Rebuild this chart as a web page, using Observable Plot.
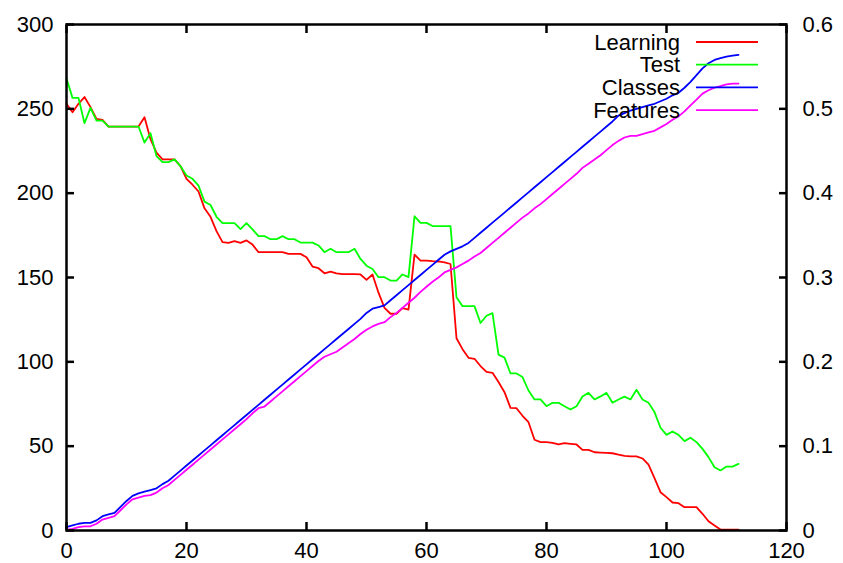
<!DOCTYPE html>
<html>
<head>
<meta charset="utf-8">
<script src="https://cdn.jsdelivr.net/npm/d3@7"></script>
<script src="https://cdn.jsdelivr.net/npm/@observablehq/plot@0.6"></script>
<style>
  html, body { margin: 0; padding: 0; background: #fff; }
  svg { display: block; }
</style>
</head>
<body>
<div id="chart"></div>
<script>
// ---- data ----
const seriesNames = ["Learning", "Test", "Classes", "Features"];
const seriesColors = ["#ff0000", "#00ff00", "#0000ff", "#ff00ff"];

const learning = [253,248,253,257,251,244,243.5,239.5,239.5,239.5,
  239.5,239.5,239.5,245,232,224,220,220,220,216,
  208.5,205,201,191,186,177.5,171,170.5,171.5,170.5,
  172,169.5,165,165,165,165,165,164,164,164,
  162,156.5,155.5,152.5,153.5,152.5,152,152,152,151.8,
  148.6,151.8,141,132,128.5,128.5,131.8,131,163.6,160,
  160,159.7,159.5,159,158,114,107.5,102.4,101.8,97.5,
  94,93.5,88,82,72.7,72.5,68,64.2,53.8,52.4,
  52.4,52,51,51.8,51.4,51,47.8,47.8,46.4,46.2,
  46,45.8,45,44.3,44,43.9,42.7,39,31,22.7,
  19.8,16.6,16.2,13.8,13.8,13.8,9.9,5.5,3,0.6,
  0.5,0.5,0.5];

const test = [268,256.5,256.5,241.5,250.6,243,243,239.5,239.5,239.5,
  239.5,239.5,239.5,230,235.5,222,218.4,218.4,220,216,
  210.5,208.5,204.5,195,193,186,182.2,182.2,182.2,178.7,
  182.3,178.5,174.5,174.5,172.7,172.7,174.5,172.7,172.7,170.7,
  170.7,170.7,169,165,167,165,165,165,167,161,
  157,155,150.2,150.2,148.2,148.2,151.8,150.2,186.3,182.4,
  182.4,180.5,180.5,180.5,180.5,138.3,133,133,133,123,
  127.3,128.9,104.3,102.5,93.1,93.1,91,83,77.7,77.7,
  73.7,75.7,75.7,73.7,71.7,73.7,79.4,81.6,77.7,79.5,
  81.6,75.7,77.7,79.4,77.7,83.4,77.7,75.7,70.2,60.9,
  56.7,58.7,56.7,53,55,52.4,48.4,43.5,37.5,35.6,
  37.9,37.9,39.5];

// right-axis series
const classes = [0.004,0.006,0.008,0.009,0.009,0.012,0.017,0.019,0.021,0.028,
  0.035,0.041,0.044,0.046,0.048,0.050,0.055,0.059,0.065,0.071,
  0.077,0.083,0.089,0.095,0.101,0.107,0.113,0.119,0.125,0.131,
  0.137,0.143,0.149,0.155,0.161,0.167,0.173,0.179,0.185,0.191,
  0.197,0.203,0.209,0.215,0.221,0.227,0.233,0.239,0.245,0.251,
  0.258,0.263,0.265,0.267,0.273,0.279,0.285,0.291,0.297,0.303,
  0.309,0.315,0.321,0.327,0.331,0.334,0.337,0.341,0.347,0.353,
  0.359,0.365,0.371,0.377,0.383,0.389,0.395,0.401,0.407,0.413,
  0.419,0.425,0.431,0.437,0.443,0.449,0.455,0.461,0.467,0.473,
  0.479,0.485,0.492,0.495,0.498,0.500,0.502,0.504,0.506,0.509,
  0.512,0.516,0.519,0.525,0.532,0.540,0.548,0.554,0.558,0.560,
  0.562,0.563,0.564];

const features = [0.001,0.002,0.004,0.005,0.005,0.008,0.013,0.015,0.017,0.024,
  0.031,0.037,0.039,0.041,0.042,0.045,0.050,0.054,0.060,0.066,
  0.072,0.078,0.084,0.090,0.096,0.102,0.108,0.114,0.120,0.126,
  0.132,0.139,0.145,0.147,0.153,0.159,0.165,0.171,0.177,0.183,
  0.189,0.195,0.201,0.206,0.209,0.212,0.217,0.222,0.227,0.233,
  0.238,0.242,0.245,0.247,0.253,0.258,0.264,0.270,0.276,0.283,
  0.289,0.295,0.300,0.306,0.309,0.312,0.316,0.320,0.325,0.329,
  0.335,0.341,0.347,0.353,0.359,0.365,0.371,0.376,0.382,0.387,
  0.393,0.399,0.405,0.411,0.417,0.423,0.430,0.435,0.440,0.445,
  0.451,0.457,0.462,0.466,0.468,0.468,0.470,0.472,0.474,0.478,
  0.482,0.487,0.491,0.497,0.504,0.511,0.518,0.522,0.525,0.527,
  0.529,0.530,0.530];

const steps = learning.map((_, i) => i);   // x positions 0..112

const xTicks = [0, 20, 40, 60, 80, 100, 120];
const leftTicks = [0, 50, 100, 150, 200, 250, 300];
const rightTicks = [0, 0.1, 0.2, 0.3, 0.4, 0.5, 0.6];

// ---- chart ----
const leftMax = 300, rightMax = 0.6;
const ratio = leftMax / rightMax;   // map right axis onto the left scale

const rows = steps.map((x, i) => ({
  x,
  learning: learning[i],
  test: test[i],
  classes: classes[i] * ratio,
  features: features[i] * ratio
}));

const fontFamily = "'Liberation Sans', Arial, Helvetica, sans-serif";
const axisStyle = { stroke: "#000", strokeWidth: 2.5, fill: "#000" };

const chart = Plot.plot({
  width: 843,
  height: 563,
  marginLeft: 66,
  marginRight: 57,
  marginTop: 24,
  marginBottom: 33,
  style: { fontFamily, fontSize: "22px", background: "#fff", color: "#000" },
  x: { domain: [0, 120] },
  y: { domain: [0, leftMax] },
  marks: [
    Plot.line(rows, { x: "x", y: "learning", stroke: seriesColors[0], strokeWidth: 1.8 }),
    Plot.line(rows, { x: "x", y: "test", stroke: seriesColors[1], strokeWidth: 1.8 }),
    Plot.line(rows, { x: "x", y: "classes", stroke: seriesColors[2], strokeWidth: 1.8 }),
    Plot.line(rows, { x: "x", y: "features", stroke: seriesColors[3], strokeWidth: 1.8 }),
    Plot.axisY(leftTicks, { anchor: "left", tickSize: -8, tickPadding: 21, label: null, ...axisStyle }),
    Plot.axisY(rightTicks.map(v => v * ratio), {
      anchor: "right", tickSize: -8, tickPadding: 24, label: null,
      tickFormat: d => d3.format("~g")(+(d / ratio).toFixed(2)), ...axisStyle
    }),
    Plot.axisX(xTicks, { anchor: "bottom", tickSize: -8, tickPadding: 20, label: null, ...axisStyle }),
    Plot.axisX(xTicks, { anchor: "top", tickSize: -8, tickFormat: () => "", label: null, ...axisStyle }),
    Plot.frame({ stroke: "#000", strokeWidth: 2.5 })
  ]
});

document.getElementById("chart").appendChild(chart);

// ---- legend (inside the plot, top right, gnuplot style) ----
const legendTextRight = 680, legendLineX1 = 696, legendLineX2 = 758;
const legendTop = 42, legendStep = 22.7;
const lg = d3.select(chart).append("g").attr("class", "legend");
seriesNames.forEach((name, i) => {
  const cy = legendTop + i * legendStep;
  lg.append("text")
    .attr("x", legendTextRight)
    .attr("y", cy)
    .attr("dy", "0.35em")
    .attr("text-anchor", "end")
    .attr("font-family", fontFamily)
    .attr("font-size", 22)
    .attr("fill", "#000")
    .text(name);
  lg.append("line")
    .attr("x1", legendLineX1).attr("x2", legendLineX2)
    .attr("y1", cy).attr("y2", cy)
    .attr("stroke", seriesColors[i])
    .attr("stroke-width", 1.8);
});
</script>
</body>
</html>
